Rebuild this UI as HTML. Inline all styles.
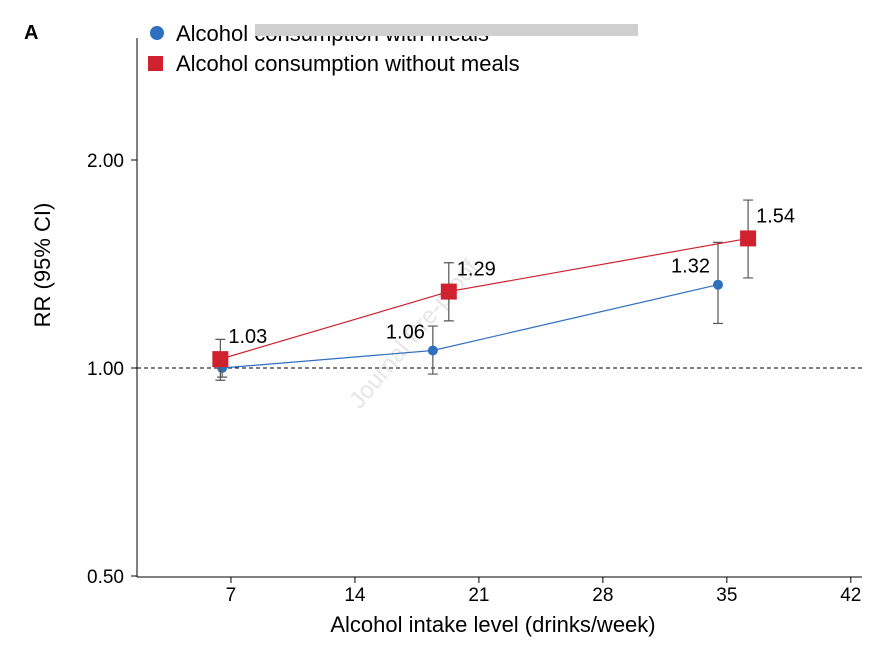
<!DOCTYPE html>
<html><head><meta charset="utf-8"><style>
body{margin:0;background:#fff;}
svg text{font-family:"Liberation Sans",Arial,sans-serif;}
</style></head><body>
<svg id="chart" width="889" height="657" viewBox="0 0 889 657" xmlns="http://www.w3.org/2000/svg">
<rect width="889" height="657" fill="#fff"/>
<text x="24" y="39" font-size="20" font-weight="bold">A</text>
<text x="360" y="410" font-size="24" fill="#e6e6e6" transform="rotate(-50 360 410)">Journal Pre-proof</text>
<g id="legend">
<circle cx="157" cy="33" r="7" fill="#2e6fc0"/>
<text x="176" y="41" font-size="22">Alcohol consumption with meals</text>
<rect x="148" y="56" width="15" height="15" fill="#d0222e"/>
<text x="176" y="71" font-size="22">Alcohol consumption without meals</text>
</g>
<rect x="255" y="24" width="383" height="12" fill="#cfcfcf"/>
<g id="axes"></g>
<g id="series"></g>
<text x="493" y="632" font-size="22" text-anchor="middle">Alcohol intake level (drinks/week)</text>
<text x="50" y="265" font-size="22" text-anchor="middle" transform="rotate(-90 50 265)">RR (95% CI)</text>
</svg>
<script>
const xTicks=[7,14,21,28,35,42];
const yTicks=[0.5,1,2];
const yTickLabels=["0.50","1.00","2.00"];
const withX=[6.5,18.4,34.5];
const withRR=[1.00,1.06,1.32];
const withLo=[0.97,0.98,1.16];
const withHi=[1.03,1.15,1.52];
const withLabels=["","1.06","1.32"];
const woX=[6.4,19.3,36.2];
const woRR=[1.03,1.29,1.54];
const woLo=[0.96,1.17,1.35];
const woHi=[1.10,1.42,1.75];
const woLabels=["1.03","1.29","1.54"];
const NS="http://www.w3.org/2000/svg";
function xs(v){return 107+v*17.71;}
function ys(v){return 368-208*Math.log2(v);}
function mk(t,a,p){const e=document.createElementNS(NS,t);for(const k in a)e.setAttribute(k,a[k]);(p||document.getElementById('series')).appendChild(e);return e;}
const ax=document.getElementById('axes');
let e=mk('line',{x1:137,y1:38,x2:137,y2:577,stroke:'#000','stroke-width':1},ax);


e=mk('line',{x1:137,y1:577,x2:862,y2:577,stroke:'#000','stroke-width':1},ax);


e=mk('line',{x1:137,y1:ys(1),x2:862,y2:ys(1),stroke:'#000','stroke-width':1,'stroke-dasharray':'4,3'},ax);


xTicks.forEach(v=>{
 e=mk('line',{x1:xs(v),y1:577,x2:xs(v),y2:583,stroke:'#000'},ax);
 
 
 e=mk('text',{x:xs(v),y:601,'font-size':19,'text-anchor':'middle'},ax);e.textContent=v;
 
 
});
yTicks.forEach((v,i)=>{
 e=mk('line',{x1:131,y1:ys(v),x2:137,y2:ys(v),stroke:'#000'},ax);
 
 
 e=mk('text',{x:124,y:ys(v)+7,'font-size':19,'text-anchor':'end'},ax);e.textContent=yTickLabels[i];
 
 
});
function series(X,R,L,H,labs,color,sq,name,lblLeft){
 e=mk('polyline',{points:X.map((x,i)=>xs(x)+','+ys(R[i])).join(' '),fill:'none',stroke:color,'stroke-width':1.2});
 
 
 X.forEach((x,i)=>{
  const cx=xs(x);
  e=mk('path',{d:`M${cx},${ys(L[i])}V${ys(H[i])}M${cx-5},${ys(L[i])}H${cx+5}M${cx-5},${ys(H[i])}H${cx+5}`,stroke:'#555','stroke-width':1.2,fill:'none'});
  
  
  if(sq) e=mk('rect',{x:cx-8,y:ys(R[i])-8,width:16,height:16,fill:color});
  else e=mk('circle',{cx:cx,cy:ys(R[i]),r:5,fill:color});
  
  
  if(labs[i]){
   const left=lblLeft[i];
   e=mk('text',{x:left?cx-8:cx+8,y:ys(R[i])-(left?12:16),'font-size':20,'text-anchor':left?'end':'start'});
   e.textContent=labs[i];
   
   
  }
 });
}
series(withX,withRR,withLo,withHi,withLabels,'#2e6fc0',false,'with-meals',[true,true,true]);
series(woX,woRR,woLo,woHi,woLabels,'#d0222e',true,'without-meals',[false,false,false]);
</script>
</body></html>
